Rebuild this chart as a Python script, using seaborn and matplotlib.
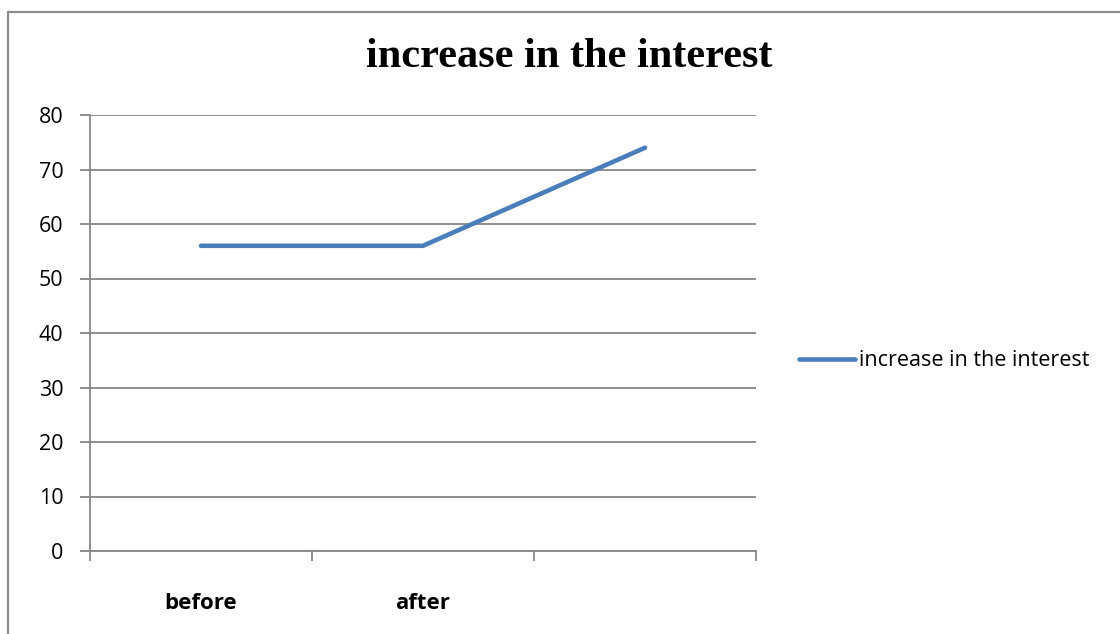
import pandas as pd
import seaborn as sns
import matplotlib.pyplot as plt
from matplotlib.lines import Line2D

# Chart data
categories = ['before', 'after', '']
values = [56, 56, 74]
series_name = 'increase in the interest'
y_ticks = [0, 10, 20, 30, 40, 50, 60, 70, 80]

data = pd.DataFrame({'stage': categories, 'value': values})

sns.set_style('white')
plt.rcParams['font.family'] = ['Open Sans', 'DejaVu Sans']
plt.rcParams['text.color'] = 'black'

fig = plt.figure(figsize=(11.2, 6.34), dpi=100)
ax = fig.add_axes([90 / 1120, 83 / 634, 666 / 1120, 436 / 634])

sns.lineplot(data=data, x='stage', y='value', ax=ax, color='#4a7ebb',
             linewidth=3.3, sort=False, label=series_name,
             solid_capstyle='round')

grid_c = '#868686'
ax.set_xlim(-0.5, 2.5)
ax.set_ylim(0, 80)
ax.set_yticks(y_ticks)
ax.yaxis.grid(True, color=grid_c, linewidth=1.3)
ax.set_axisbelow(True)
for s in ['top', 'right']:
    ax.spines[s].set_visible(False)
for s in ['left', 'bottom']:
    ax.spines[s].set_color(grid_c)
    ax.spines[s].set_linewidth(1.3)

ax.tick_params(axis='y', which='major', length=7, width=1.3, color=grid_c,
               direction='out', labelsize=15.5, pad=12, left=True,
               labelcolor='black')
ax.set_xticks(range(len(categories)))
ax.set_xticklabels(categories, fontweight='bold', fontsize=16)
ax.tick_params(axis='x', which='major', length=0, pad=30, labelcolor='black')
ax.set_xticks([-0.5, 0.5, 1.5, 2.5], minor=True)
ax.tick_params(axis='x', which='minor', length=7, width=1.3, color=grid_c,
               direction='out', bottom=True)
ax.set_xlabel('')
ax.set_ylabel('')

fig.text(569 / 1120, 1 - 57 / 634, 'increase in the interest', ha='center',
         va='center', fontsize=30.5, fontweight='bold', color='black',
         family=['Liberation Serif', 'DejaVu Serif'])

ax.legend(loc='center left', bbox_to_anchor=(780 / 1120, 1 - 361 / 634),
          bbox_transform=fig.transFigure, frameon=False, fontsize=15.5,
          handlelength=2.6, handletextpad=0.15, labelcolor='black')

# outer chart frame
fig.add_artist(Line2D([8 / 1120, 8 / 1120], [0, 1 - 12 / 634],
                      transform=fig.transFigure, color='#8c8c8c', linewidth=1.6))
fig.add_artist(Line2D([8 / 1120, 1], [1 - 12 / 634, 1 - 12 / 634],
                      transform=fig.transFigure, color='#8c8c8c', linewidth=1.6))

fig.savefig('out.png', dpi=100)
